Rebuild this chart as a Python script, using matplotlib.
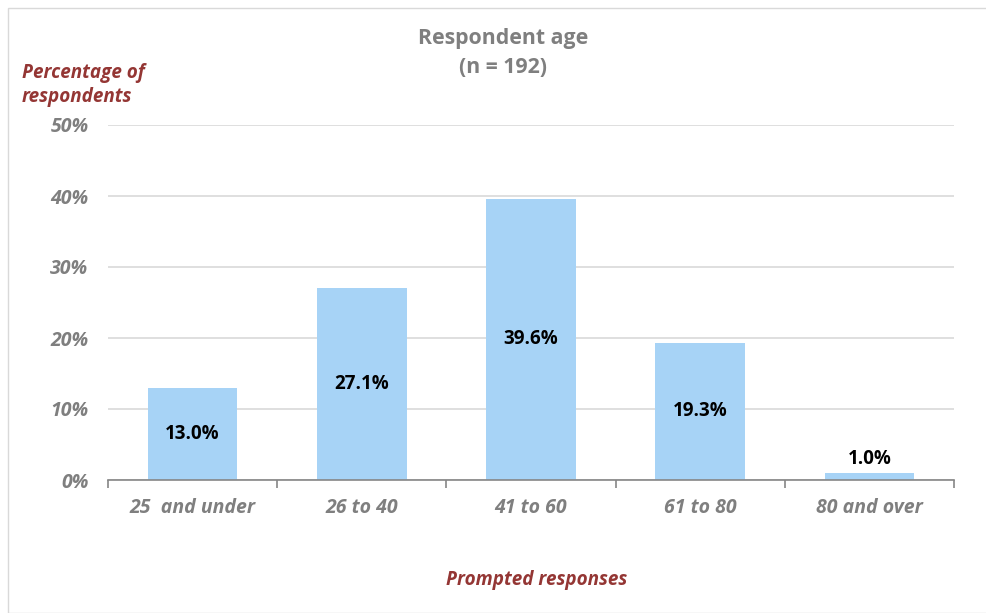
import numpy as np
import matplotlib.pyplot as plt
from matplotlib.patches import Rectangle

# ---- DATA ----
categories = ["25  and under", "26 to 40", "41 to 60", "61 to 80", "80 and over"]
percent = [13.0, 27.1, 39.6, 19.3, 1.0]
y_ticks = [0, 10, 20, 30, 40, 50]

plt.rcParams["font.family"] = ["Open Sans", "DejaVu Sans"]

GREY = "#7f7f7f"
RED = "#943634"
BLUE = "#a7d3f6"

fig = plt.figure(figsize=(9.86, 6.13), dpi=100)
fig.patches.append(Rectangle((8 / 986, 0), 1, 1 - 8 / 613, transform=fig.transFigure,
                             fill=False, edgecolor="#d9d9d9", linewidth=1))

ax = fig.add_axes([108 / 986, 1 - 480 / 613, (954 - 108) / 986, (480 - 125) / 613])

x = np.arange(len(categories))
bars = ax.bar(x, percent, width=0.53, color=BLUE, zorder=2)

ax.set_xlim(-0.5, len(categories) - 0.5)
ax.set_ylim(0, 50)
ax.set_yticks(y_ticks)
ax.set_yticklabels([f"{t}%" for t in y_ticks])
ax.grid(True, axis="y", color="#d9d9d9", linewidth=1.2, zorder=0)

# category ticks sit between bars
ax.set_xticks(x)
ax.set_xticklabels(categories)
ax.set_xticks(np.arange(-0.5, len(categories)), minor=True)
ax.tick_params(axis="x", which="major", length=0, pad=13)
ax.tick_params(axis="x", which="minor", length=6, color="#868686", width=1.2)
ax.tick_params(axis="y", length=0, pad=14)

for lab in ax.get_xticklabels() + ax.get_yticklabels():
    lab.set_fontsize(14)
    lab.set_fontweight("bold")
    lab.set_fontstyle("italic")
    lab.set_color(GREY)

for s in ["top", "right", "left"]:
    ax.spines[s].set_visible(False)
ax.spines["bottom"].set_color("#868686")
ax.spines["bottom"].set_linewidth(1.2)
ax.spines["bottom"].set_zorder(3)

# value labels
for xi, v in zip(x, percent):
    if v < 5:
        ax.text(xi, v + 0.6, f"{v:.1f}%", ha="center", va="bottom",
                fontsize=13.5, fontweight="bold", color="black")
    else:
        ax.text(xi, v / 2, f"{v:.1f}%", ha="center", va="center",
                fontsize=13.5, fontweight="bold", color="black")

fig.text(503 / 986, 1 - 53 / 613, "Respondent age\n(n = 192)", ha="center", va="center",
         fontsize=15.3, fontweight="bold", color=GREY, linespacing=1.5)
fig.text(22 / 986, 1 - 85 / 613, "Percentage of\nrespondents", ha="left", va="center",
         fontsize=13.6, fontweight="bold", fontstyle="italic", color=RED, linespacing=1.3)
fig.text(537 / 986, 1 - 580 / 613, "Prompted responses", ha="center", va="center",
         fontsize=13.6, fontweight="bold", fontstyle="italic", color=RED)

fig.savefig("out.png", dpi=100)
